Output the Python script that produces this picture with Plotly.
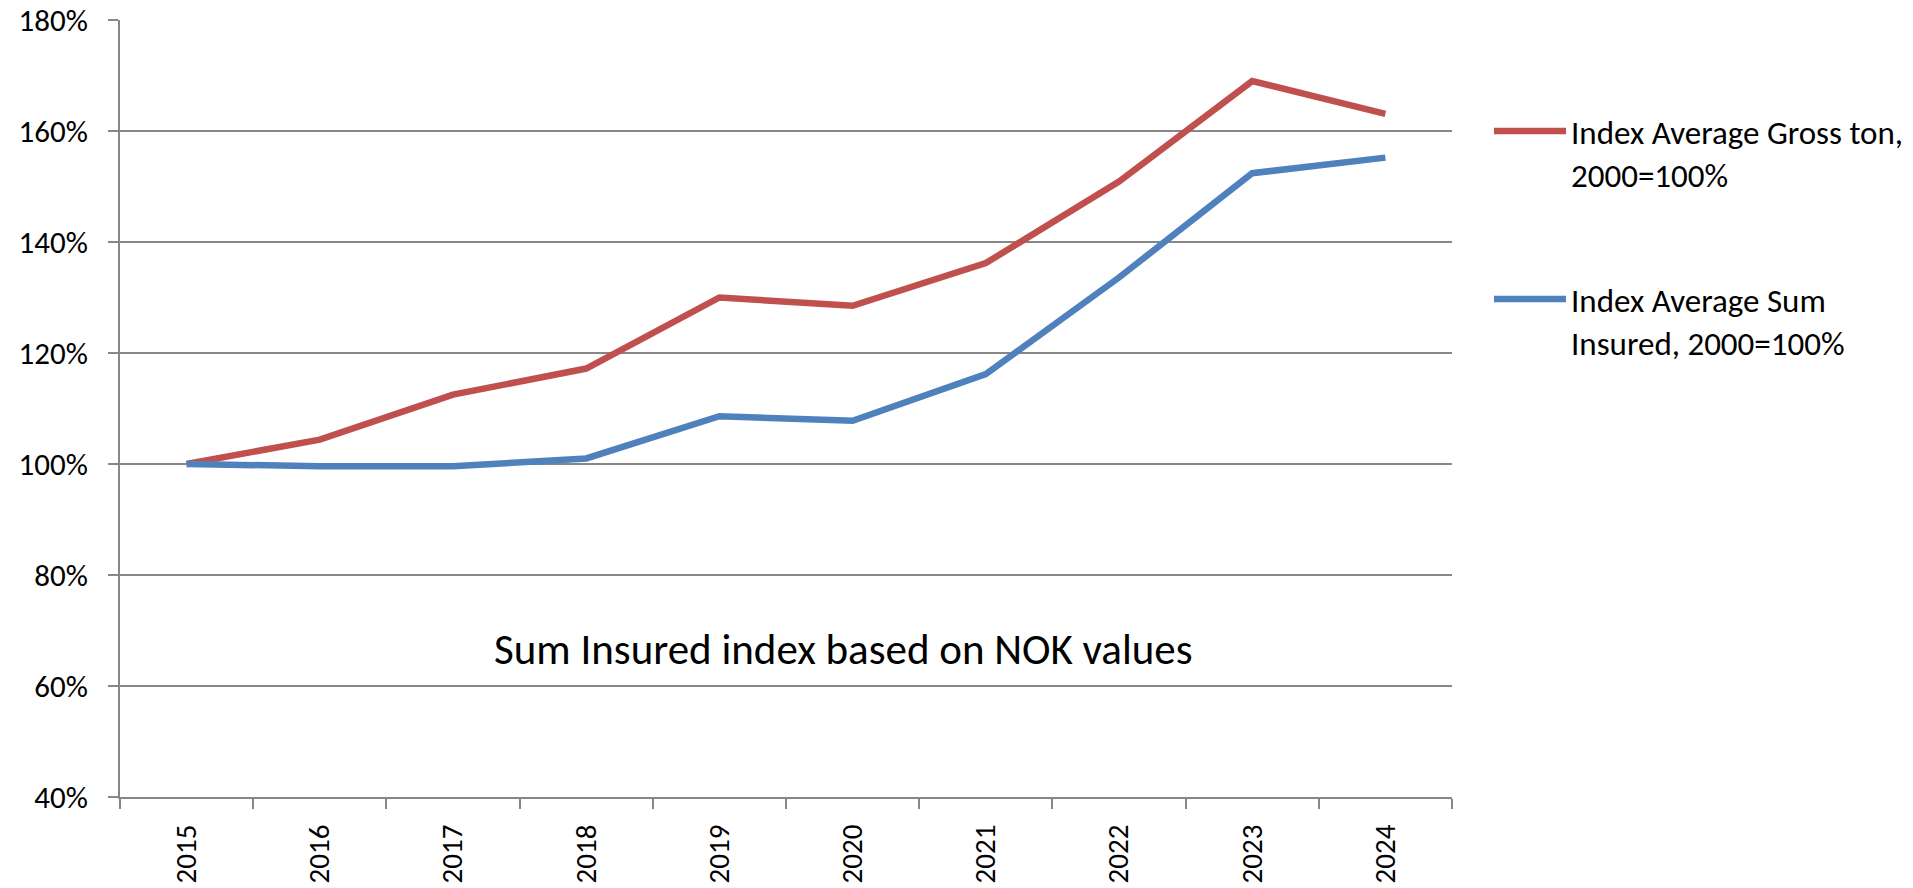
import plotly.graph_objects as go

years = ["2015", "2016", "2017", "2018", "2019", "2020", "2021", "2022", "2023", "2024"]
gross_ton = [100.0, 104.4, 112.5, 117.2, 130.0, 128.5, 136.2, 150.9, 169.0, 163.1]
sum_insured = [100.0, 99.6, 99.6, 101.0, 108.6, 107.8, 116.2, 133.6, 152.4, 155.2]
name_gross = "Index Average Gross ton,<br>2000=100%"
name_sum = "Index Average Sum<br>Insured, 2000=100%"
y_ticks = [40, 60, 80, 100, 120, 140, 160, 180]
note = "Sum Insured index based on NOK values"

FONT = "Carlito, Calibri, Lato, sans-serif"
GRID = "#878787"

W, H = 1913, 888

fig = go.Figure()
fig.add_trace(go.Scatter(x=years, y=gross_ton, mode="lines", name=name_gross, showlegend=True,
                         line=dict(color="#C0504D", width=6.5), legend="legend"))
fig.add_trace(go.Scatter(x=years, y=sum_insured, mode="lines", name=name_sum, showlegend=True,
                         line=dict(color="#4F81BD", width=6.5), legend="legend2"))

fig.add_annotation(text=note, xref="paper", yref="y", x=0.543, y=66.5,
                   showarrow=False, font=dict(family=FONT, size=43, color="black"))

legend_common = dict(xref="container", yref="container", x=1489 / W,
                     xanchor="left", yanchor="top", valign="top", itemwidth=72,
                     font=dict(family=FONT, size=33, color="black"),
                     bgcolor="rgba(0,0,0,0)")

fig.update_layout(
    width=W, height=H,
    showlegend=True,
    margin=dict(l=120, r=461, t=20, b=91, autoexpand=False),
    paper_bgcolor="white", plot_bgcolor="white",
    font=dict(family=FONT, size=30, color="black"),
    legend=dict(legend_common, y=1 - 103 / H),
    legend2=dict(legend_common, y=1 - 271 / H),
    xaxis=dict(type="category", showgrid=False, showline=True, linecolor=GRID, linewidth=2,
               ticks="outside", tickson="boundaries", ticklen=10, tickwidth=2, tickcolor=GRID,
               tickangle=-90, ticklabelstandoff=14, range=[-0.5, 9.5], zeroline=False,
               automargin=False, tickfont=dict(size=29), ticklabeloverflow="allow"),
    yaxis=dict(range=[40, 180], tickvals=y_ticks, ticktext=[f"{v}%" for v in y_ticks],
               showgrid=True, gridcolor=GRID, gridwidth=2, showline=True, linecolor=GRID,
               linewidth=2, ticks="outside", ticklen=10, tickwidth=2, tickcolor=GRID,
               zeroline=False, ticklabelstandoff=14, automargin=False,
               tickfont=dict(size=31), ticklabeloverflow="allow"),
)

# remove the browser's default 8px body margin so the figure fills the window exactly
fig.write_html("out.html", config={"displayModeBar": False},
               post_script="document.body.style.margin='0';document.body.style.overflow='hidden';")
